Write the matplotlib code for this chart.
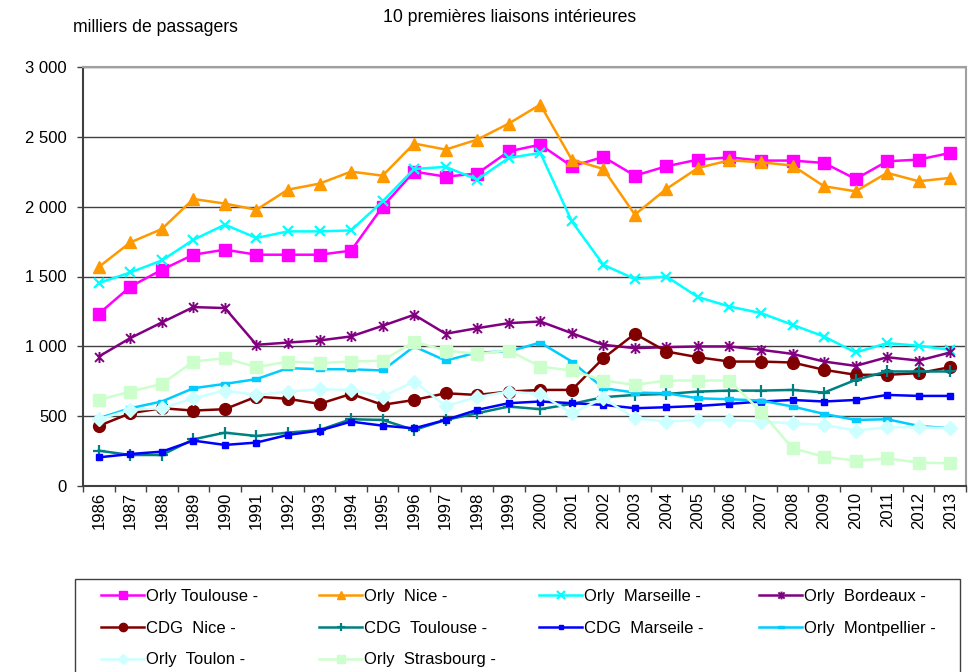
import matplotlib
matplotlib.use("Agg")
import matplotlib.pyplot as plt
from matplotlib.path import Path
from matplotlib.patches import Rectangle
from matplotlib.ticker import FuncFormatter, MultipleLocator
import numpy as np

plt.rcParams['font.family'] = ['Liberation Sans', 'DejaVu Sans']

years = list(range(1986, 2014))

orly_toulouse = [1233, 1427, 1548, 1656, 1692, 1656, 1656, 1656, 1685, 2000,
                 2251, 2215, 2237, 2396, 2444, 2289, 2356, 2222, 2289, 2337,
                 2353, 2330, 2330, 2313, 2198, 2325, 2337, 2385]
orly_nice = [1568, 1744, 1840, 2055, 2022, 1978, 2122, 2165, 2251, 2222,
             2452, 2409, 2480, 2595, 2731, 2337, 2270, 1943, 2127, 2277,
             2332, 2318, 2294, 2146, 2110, 2242, 2182, 2206]
orly_marseille = [1453, 1529, 1615, 1763, 1871, 1776, 1823, 1823, 1830, 2038,
                  2270, 2285, 2194, 2349, 2385, 1895, 1584, 1482, 1500, 1353,
                  1285, 1238, 1154, 1070, 956, 1023, 1004, 975]
orly_bordeaux = [927, 1059, 1171, 1281, 1274, 1011, 1027, 1042, 1071, 1147,
                 1226, 1090, 1130, 1166, 1178, 1094, 1011, 987, 994, 999,
                 999, 975, 946, 891, 860, 922, 898, 956]
cdg_nice = [430, 521, 557, 540, 550, 640, 624, 588, 659, 581,
            616, 664, 652, 676, 688, 688, 915, 1090, 963, 922,
            891, 891, 884, 832, 796, 796, 808, 851]
cdg_toulouse = [253, 222, 222, 334, 382, 358, 382, 401, 478, 473,
                401, 473, 521, 569, 550, 588, 636, 652, 659, 676,
                683, 683, 688, 669, 760, 820, 820, 820]
cdg_marseille = [205, 229, 246, 325, 294, 311, 366, 397, 461, 432,
                 413, 473, 545, 593, 605, 593, 581, 557, 564, 573,
                 588, 605, 616, 605, 616, 652, 645, 645]
orly_montpellier = [485, 557, 605, 700, 731, 765, 844, 836, 836, 827,
                    999, 898, 956, 963, 1027, 891, 700, 669, 664, 628,
                    621, 612, 569, 516, 473, 478, 430, 413]
orly_toulon = [478, 545, 557, 628, 683, 652, 676, 693, 688, 640,
               748, 573, 636, 676, 659, 521, 628, 485, 461, 473,
               473, 461, 449, 437, 397, 421, 421, 413]
orly_strasbourg = [616, 676, 731, 891, 915, 851, 891, 880, 891, 898,
                   1034, 970, 946, 970, 855, 827, 755, 724, 755, 755,
                   755, 533, 270, 210, 181, 198, 167, 163]

labels = ["Orly Toulouse -", "Orly  Nice -", "Orly  Marseille -", "Orly  Bordeaux -",
          "CDG  Nice -", "CDG  Toulouse -", "CDG  Marseile -", "Orly  Montpellier -",
          "Orly  Toulon -", "Orly  Strasbourg -"]
series = [orly_toulouse, orly_nice, orly_marseille, orly_bordeaux,
          cdg_nice, cdg_toulouse, cdg_marseille, orly_montpellier,
          orly_toulon, orly_strasbourg]
colors = ["#FF00FF", "#FF9900", "#00FFFF", "#800080",
          "#800000", "#008080", "#0000FF", "#00CCFF",
          "#CCFFFF", "#CCFFCC"]

# custom marker shapes
star = Path([(-1, -1), (1, 1), (-1, 1), (1, -1), (0, -1.25), (0, 1.25)],
            [Path.MOVETO, Path.LINETO] * 3)
dash = Path([(-1, -0.45), (1, -0.45), (1, 0.45), (-1, 0.45), (-1, -0.45)],
            [Path.MOVETO, Path.LINETO, Path.LINETO, Path.LINETO, Path.CLOSEPOLY])

markers = ['s', '^', 'x', star, 'o', '+', 's', dash, 'D', 's']
msizes = [8.5, 8, 7.5, 8, 8.5, 8, 4.2, 6, 7, 8.5]
mews = [1, 1, 1.6, 1.4, 1, 1.6, 1, 1, 1, 1]

fig = plt.figure(figsize=(9.73, 6.72), dpi=100)
W, H = 973, 672
ax = fig.add_axes([83 / W, 1 - 486 / H, (966 - 83) / W, (486 - 67) / H])

lines = []
for vals, lab, col, mk, ms, mew in zip(series, labels, colors, markers, msizes, mews):
    ln, = ax.plot(years, vals, color=col, lw=1.8, marker=mk, markersize=ms,
                  markerfacecolor=col, markeredgecolor=col, markeredgewidth=mew,
                  label=lab, clip_on=False)
    lines.append(ln)

ax.set_xlim(1985.5, 2013.5)
ax.set_ylim(0, 3000)
ax.yaxis.set_major_locator(MultipleLocator(500))
ax.yaxis.set_major_formatter(FuncFormatter(lambda v, p: f"{int(v):,}".replace(",", " ")))
ax.grid(axis='y', color='#404040', lw=1)
ax.set_axisbelow(True)

ax.set_xticks(years)
ax.set_xticklabels([str(y) for y in years], rotation=90, fontsize=12)
ax.set_xticks(np.arange(1985.5, 2014, 1), minor=True)
ax.tick_params(axis='x', which='major', length=0, pad=4)
ax.tick_params(axis='x', which='minor', length=4.5, color='#404040', width=1)
ax.tick_params(axis='y', length=4.5, color='#404040', width=1, labelsize=12, pad=7)

for s in ['left', 'bottom']:
    ax.spines[s].set_color('#404040')
    ax.spines[s].set_linewidth(1.5)
for s in ['top', 'right']:
    ax.spines[s].set_color('#A0A0A0')
    ax.spines[s].set_linewidth(1.5)

fig.text(510 / W, 1 - 17 / H, "10 premières liaisons intérieures",
         ha='center', va='center', fontsize=12.7)
fig.text(73 / W, 1 - 28 / H, "milliers de passagers",
         ha='left', va='center', fontsize=12.7)

# legend box laid out as four columns, filled row by row
col_x = [101, 319, 539, 759]
for c in range(4):
    idx = [c, c + 4, c + 8]
    idx = [i for i in idx if i < len(lines)]
    leg = fig.legend([lines[i] for i in idx], [labels[i] for i in idx],
                     loc='upper left', bbox_to_anchor=(col_x[c] / W, 1 - 589 / H),
                     frameon=False, fontsize=12, handlelength=2.6,
                     handletextpad=0.12, labelspacing=1.0, borderpad=0,
                     borderaxespad=0, markerscale=0.7)
fig.patches.append(Rectangle((75 / W, -0.02), (960 - 75) / W, 0.02 + (672 - 579) / H,
                             transform=fig.transFigure, fill=False,
                             edgecolor='#404040', lw=1))

fig.savefig("out.png", dpi=100)
